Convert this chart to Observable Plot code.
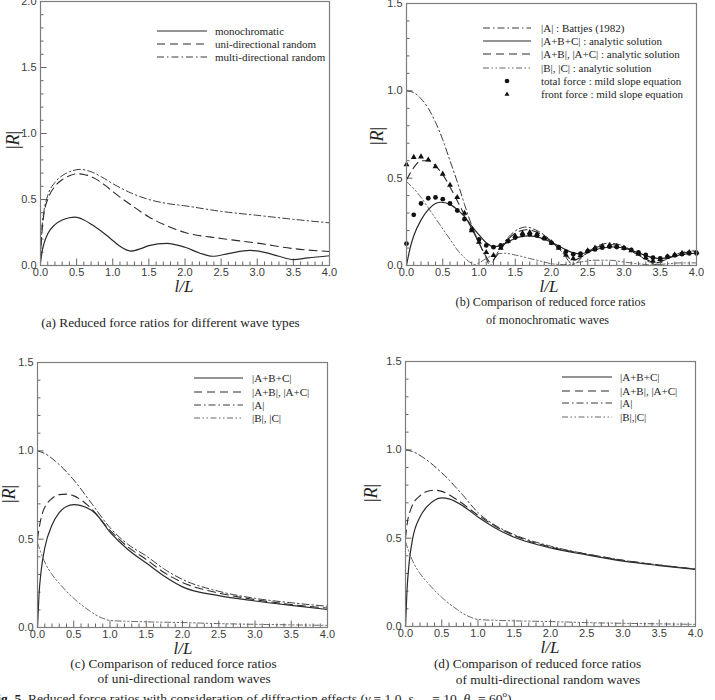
<!DOCTYPE html>
<html>
<head>
<meta charset="utf-8">
<script src="https://cdn.jsdelivr.net/npm/d3@7"></script>
<script src="https://cdn.jsdelivr.net/npm/@observablehq/plot@0.6"></script>
<style>
  body { margin: 0; background: #fff; }
  #fig { position: relative; width: 715px; height: 700px; overflow: hidden;
         font-family: "Liberation Serif", "Times New Roman", serif; color: #1e1e1e; }
  .t { position: absolute; white-space: nowrap; line-height: 1; }
  .c { transform: translate(-50%, -50%); }
  .l { transform: translate(0, -50%); }
  .ylab { transform: translate(-50%, -50%) rotate(-90deg); font-size: 18px; line-height: 0.8; }
  .xlab { font-size: 17px; font-style: italic; line-height: 0.7; }
  .leg { font-size: 11px; }
  .cap { font-size: 13.3px; }
</style>
</head>
<body>
<div id="fig"></div>
<script>
// ---------- shared axes ----------
const xMajor = [0, 0.5, 1.0, 1.5, 2.0, 2.5, 3.0, 3.5, 4.0];

// ---------- (a) different wave types ----------
const aMonoX  = [0, 0.02, 0.05, 0.1, 0.2, 0.3, 0.4, 0.48, 0.6, 0.75, 0.9, 1.0, 1.1, 1.25, 1.4, 1.5, 1.75, 2.0, 2.2, 2.38, 2.6, 2.9, 3.1, 3.3, 3.5, 3.7, 4.0];
const aMono   = [0.02, 0.1, 0.17, 0.24, 0.31, 0.345, 0.362, 0.366, 0.345, 0.295, 0.235, 0.19, 0.145, 0.109, 0.13, 0.15, 0.168, 0.138, 0.095, 0.07, 0.09, 0.114, 0.1, 0.07, 0.045, 0.058, 0.074];
const aUniX   = [0, 0.02, 0.05, 0.1, 0.2, 0.3, 0.4, 0.5, 0.6, 0.75, 0.9, 1.0, 1.25, 1.5, 1.75, 2.0, 2.5, 3.0, 3.5, 4.0];
const aUni    = [0.05, 0.25, 0.4, 0.5, 0.6, 0.65, 0.68, 0.695, 0.69, 0.66, 0.605, 0.56, 0.46, 0.368, 0.3, 0.25, 0.205, 0.17, 0.128, 0.106];
const aMultiX = [0, 0.02, 0.05, 0.1, 0.2, 0.3, 0.4, 0.55, 0.7, 0.85, 1.0, 1.25, 1.5, 1.75, 2.0, 2.5, 3.0, 3.5, 4.0];
const aMulti  = [0.05, 0.28, 0.42, 0.53, 0.63, 0.68, 0.71, 0.728, 0.71, 0.67, 0.62, 0.55, 0.5, 0.47, 0.452, 0.41, 0.38, 0.35, 0.323];

// ---------- (b) monochromatic waves ----------
const bAX   = [0, 0.1, 0.2, 0.3, 0.4, 0.5, 0.6, 0.7, 0.8, 0.9, 1.0, 1.1, 1.15, 1.25, 1.4, 1.55, 1.65, 1.8, 2.0, 2.15, 2.3, 2.45, 2.6, 2.8, 3.0, 3.2, 3.45, 3.6, 3.8, 4.0];
const bA    = [1.0, 0.99, 0.955, 0.9, 0.82, 0.72, 0.6, 0.48, 0.35, 0.23, 0.13, 0.04, 0.0, 0.07, 0.16, 0.21, 0.22, 0.2, 0.14, 0.075, 0.005, 0.06, 0.105, 0.128, 0.11, 0.06, 0.005, 0.04, 0.075, 0.085];
const bABCX = [0, 0.05, 0.1, 0.2, 0.3, 0.4, 0.47, 0.6, 0.7, 0.8, 0.9, 1.0, 1.1, 1.2, 1.3, 1.4, 1.55, 1.7, 1.85, 2.0, 2.15, 2.3, 2.4, 2.5, 2.7, 2.85, 3.0, 3.2, 3.4, 3.5, 3.6, 3.8, 4.0];
const bABC  = [0.0, 0.1, 0.17, 0.26, 0.32, 0.355, 0.362, 0.35, 0.32, 0.28, 0.225, 0.175, 0.13, 0.108, 0.112, 0.135, 0.162, 0.17, 0.158, 0.133, 0.1, 0.072, 0.066, 0.078, 0.1, 0.106, 0.1, 0.072, 0.045, 0.04, 0.045, 0.062, 0.07];
const bABX  = [0, 0.1, 0.2, 0.3, 0.4, 0.5, 0.6, 0.7, 0.8, 0.9, 1.0, 1.1, 1.15, 1.25, 1.4, 1.55, 1.65, 1.8, 2.0, 2.15, 2.3, 2.45, 2.6, 2.8, 3.0, 3.2, 3.45, 3.6, 3.8, 4.0];
const bAB   = [0.49, 0.56, 0.6, 0.6, 0.57, 0.52, 0.45, 0.37, 0.29, 0.21, 0.13, 0.05, 0.02, 0.06, 0.15, 0.195, 0.205, 0.19, 0.135, 0.08, 0.03, 0.06, 0.1, 0.12, 0.105, 0.06, 0.015, 0.04, 0.07, 0.08];
const bBX   = [0, 0.1, 0.2, 0.3, 0.4, 0.5, 0.6, 0.7, 0.8, 0.9, 0.95, 1.0, 1.1, 1.2, 1.35, 1.5, 1.7, 1.9, 2.0, 2.2, 2.4, 2.6, 2.8, 3.0, 3.2, 3.4, 3.6, 3.8, 4.0];
const bB    = [0.48, 0.44, 0.39, 0.33, 0.27, 0.21, 0.15, 0.09, 0.045, 0.012, 0.005, 0.015, 0.04, 0.06, 0.07, 0.06, 0.04, 0.02, 0.01, 0.005, 0.02, 0.03, 0.03, 0.02, 0.01, 0.003, 0.01, 0.015, 0.015];
const bDotX = [0.0, 0.1, 0.2, 0.3, 0.4, 0.5, 0.6, 0.7, 0.8, 0.9, 1.0, 1.1, 1.2, 1.3, 1.4, 1.5, 1.6, 1.7, 1.8, 1.9, 2.0, 2.1, 2.2, 2.3, 2.4, 2.5, 2.6, 2.7, 2.8, 2.9, 3.0, 3.1, 3.2, 3.3, 3.4, 3.5, 3.6, 3.7, 3.8, 3.9, 4.0];
const bTotal = [0.125, 0.29, 0.355, 0.385, 0.39, 0.38, 0.355, 0.315, 0.265, 0.205, 0.15, 0.115, 0.105, 0.115, 0.14, 0.16, 0.175, 0.178, 0.172, 0.155, 0.13, 0.105, 0.08, 0.065, 0.068, 0.082, 0.092, 0.102, 0.108, 0.106, 0.1, 0.09, 0.075, 0.06, 0.045, 0.04, 0.05, 0.058, 0.065, 0.07, 0.07];
const bFront = [0.578, 0.62, 0.623, 0.605, 0.566, 0.524, 0.46, 0.39, 0.3, 0.2, 0.135, 0.075, 0.058, 0.1, 0.14, 0.168, 0.185, 0.19, 0.18, 0.158, 0.13, 0.1, 0.06, 0.04, 0.058, 0.085, 0.1, 0.11, 0.115, 0.11, 0.1, 0.085, 0.065, 0.045, 0.025, 0.035, 0.05, 0.06, 0.07, 0.075, 0.075];

// ---------- (c) uni-directional random waves ----------
const cAX   = [0, 0.1, 0.25, 0.5, 0.75, 1.0, 1.25, 1.5, 1.75, 2.0, 2.5, 3.0, 3.5, 4.0];
const cA    = [1.0, 0.985, 0.94, 0.835, 0.7, 0.565, 0.47, 0.405, 0.33, 0.272, 0.205, 0.165, 0.14, 0.12];
const cABX  = [0, 0.03, 0.07, 0.1, 0.2, 0.3, 0.4, 0.5, 0.7, 1.0, 1.25, 1.5, 1.75, 2.0, 2.5, 3.0, 3.5, 4.0];
const cAB   = [0.5, 0.58, 0.65, 0.68, 0.73, 0.752, 0.755, 0.745, 0.69, 0.55, 0.455, 0.385, 0.31, 0.255, 0.195, 0.158, 0.13, 0.11];
const cABCX = [0, 0.02, 0.05, 0.1, 0.2, 0.3, 0.4, 0.5, 0.6, 0.8, 1.0, 1.25, 1.5, 1.75, 2.0, 2.5, 3.0, 3.5, 4.0];
const cABC  = [0, 0.18, 0.32, 0.45, 0.58, 0.65, 0.685, 0.695, 0.69, 0.645, 0.54, 0.44, 0.365, 0.29, 0.23, 0.18, 0.15, 0.125, 0.102];
const cBX   = [0, 0.05, 0.1, 0.2, 0.3, 0.4, 0.5, 0.6, 0.7, 0.8, 0.9, 1.0, 1.25, 1.5, 2.0, 2.5, 3.0, 3.5, 4.0];
const cB    = [0.48, 0.42, 0.37, 0.3, 0.25, 0.205, 0.165, 0.13, 0.1, 0.072, 0.052, 0.04, 0.035, 0.032, 0.028, 0.022, 0.018, 0.015, 0.012];

// ---------- (d) multi-directional random waves ----------
const dAX   = [0, 0.1, 0.25, 0.5, 0.6, 0.7, 0.8, 0.9, 1.0, 1.25, 1.5, 2.0, 2.5, 3.0, 3.5, 4.0];
const dA    = [1.0, 0.99, 0.955, 0.87, 0.83, 0.785, 0.74, 0.69, 0.645, 0.57, 0.52, 0.455, 0.41, 0.375, 0.348, 0.325];
const dABX  = [0, 0.03, 0.07, 0.1, 0.2, 0.3, 0.4, 0.5, 0.7, 1.0, 1.25, 1.5, 2.0, 2.5, 3.0, 3.5, 4.0];
const dAB   = [0.5, 0.6, 0.66, 0.69, 0.74, 0.765, 0.772, 0.765, 0.72, 0.63, 0.565, 0.515, 0.45, 0.41, 0.375, 0.348, 0.325];
const dABCX = [0, 0.02, 0.05, 0.1, 0.2, 0.3, 0.4, 0.5, 0.6, 0.8, 1.0, 1.25, 1.5, 2.0, 2.5, 3.0, 3.5, 4.0];
const dABC  = [0, 0.2, 0.36, 0.5, 0.62, 0.68, 0.715, 0.728, 0.722, 0.68, 0.62, 0.555, 0.505, 0.445, 0.405, 0.37, 0.345, 0.323];
const dBX   = [0, 0.05, 0.1, 0.2, 0.3, 0.4, 0.5, 0.6, 0.7, 0.8, 0.9, 1.0, 1.25, 1.5, 2.0, 2.5, 3.0, 3.5, 4.0];
const dB    = [0.48, 0.42, 0.37, 0.3, 0.25, 0.205, 0.165, 0.13, 0.1, 0.072, 0.052, 0.04, 0.035, 0.032, 0.028, 0.022, 0.018, 0.015, 0.012];

// ---------- line styles ----------
const STYLE = {
  solid:   { dash: null,                         stroke: "#2a2a2a", width: 1.2 },
  dash:    { dash: "8,5",                        stroke: "#2a2a2a", width: 1.1 },
  dashdot: { dash: "7,3,1.5,3",                  stroke: "#3a3a3a", width: 1.0 },
  dd:      { dash: "6,2.5,1.5,2.5,1.5,2.5",      stroke: "#555",    width: 0.9 }
};

const fig = document.getElementById("fig");

function panel({left, top, right, bottom, yMax, series, dots = []}) {
  const w = right - left, h = bottom - top;
  const mL = 40, mT = 20, mR = 20, mB = 40;
  const xMinor = d3.range(0, 41).map(i => i / 10).filter(v => Math.round(v * 10) % 5 !== 0);
  const yAll = d3.range(0, Math.round(yMax * 10) + 1).map(i => i / 10);
  const yMinor = yAll.filter(v => Math.round(v * 10) % 5 !== 0);
  const yMajor = yAll.filter(v => Math.round(v * 10) % 5 === 0);
  const axisText = {fontSize: 11, fontFamily: "Liberation Sans, Arial, sans-serif", fill: "#3c3c3c"};
  const marks = [
    Plot.tickX(xMinor, {x: d => d, insetTop: h - 3.5, stroke: "#666", strokeWidth: 1}),
    Plot.tickX(xMajor, {x: d => d, insetTop: h - 6.5, stroke: "#666", strokeWidth: 1}),
    Plot.tickY(yMinor, {y: d => d, insetRight: w - 3.5, stroke: "#666", strokeWidth: 1}),
    Plot.tickY(yMajor, {y: d => d, insetRight: w - 6.5, stroke: "#666", strokeWidth: 1}),
    Plot.axisX(xMajor, {tickSize: 0, tickPadding: 3, tickFormat: d => d.toFixed(1), label: null, ...axisText}),
    Plot.axisY(yMajor, {tickSize: 0, tickPadding: 4, tickFormat: d => d.toFixed(1), label: null, ...axisText}),
  ];
  for (const s of series) {
    const st = STYLE[s.style];
    marks.push(Plot.line(s.y, {x: s.x, y: s.y, curve: "monotone-x", stroke: st.stroke,
      strokeWidth: st.width, strokeDasharray: st.dash}));
  }
  for (const d of dots) {
    marks.push(Plot.dot(d.y, {x: d.x, y: d.y, symbol: d.symbol, r: d.r, fill: "#111", stroke: "none"}));
  }
  marks.push(Plot.frame({stroke: "#7d7d7d", strokeWidth: 1.2}));
  const svg = Plot.plot({
    width: w + mL + mR, height: h + mT + mB,
    marginLeft: mL, marginRight: mR, marginTop: mT, marginBottom: mB,
    x: {domain: [0, 4]},
    y: {domain: [0, yMax]},
    style: {overflow: "visible", background: "transparent"},
    marks
  });
  svg.style.position = "absolute";
  svg.style.left = (left - mL) + "px";
  svg.style.top = (top - mT) + "px";
  fig.appendChild(svg);
}

function text(html, x, y, cls, extra = "") {
  const el = document.createElement("div");
  el.className = "t " + cls;
  el.style.cssText = `left:${x}px;top:${y}px;${extra}`;
  el.innerHTML = html;
  fig.appendChild(el);
}

function legend(x1, x2, tx, rows, entries) {
  entries.forEach((e, i) => {
    const y = rows[i];
    const el = document.createElement("div");
    el.className = "t";
    el.style.cssText = `left:${x1}px;top:${y - 5}px;`;
    const W = x2 - x1;
    let sample;
    if (e.marker === "circle") {
      sample = `<circle cx="${W / 2}" cy="5" r="2.3" fill="#111"/>`;
    } else if (e.marker === "triangle") {
      sample = `<path d="M${W / 2},2.4 L${W / 2 + 2.5},6.7 L${W / 2 - 2.5},6.7 Z" fill="#111"/>`;
    } else {
      const st = STYLE[e.style];
      sample = `<line x1="0" y1="5" x2="${W}" y2="5" stroke="${st.stroke}" stroke-width="${st.width}"` +
        (st.dash ? ` stroke-dasharray="${st.dash}"` : "") + `/>`;
    }
    el.innerHTML = `<svg width="${W}" height="10" style="display:block">${sample}</svg>`;
    fig.appendChild(el);
    text(e.label, tx, y, "l leg");
  });
}

// (a)
panel({left: 40, top: 1, right: 329, bottom: 265, yMax: 2, series: [
  {x: aMonoX, y: aMono, style: "solid"},
  {x: aUniX, y: aUni, style: "dash"},
  {x: aMultiX, y: aMulti, style: "dashdot"}
]});
// (b)
panel({left: 406, top: 3, right: 696, bottom: 265, yMax: 1.5, series: [
  {x: bAX, y: bA, style: "dashdot"},
  {x: bABCX, y: bABC, style: "solid"},
  {x: bABX, y: bAB, style: "dash"},
  {x: bBX, y: bB, style: "dd"}
], dots: [
  {x: bDotX, y: bTotal, symbol: "circle", r: 2.4},
  {x: bDotX, y: bFront, symbol: "triangle", r: 2.2}
]});
// (c)
panel({left: 37, top: 362, right: 327, bottom: 627, yMax: 1.5, series: [
  {x: cABCX, y: cABC, style: "solid"},
  {x: cABX, y: cAB, style: "dash"},
  {x: cAX, y: cA, style: "dashdot"},
  {x: cBX, y: cB, style: "dd"}
]});
// (d)
panel({left: 405, top: 361, right: 695, bottom: 626, yMax: 1.5, series: [
  {x: dABCX, y: dABC, style: "solid"},
  {x: dABX, y: dAB, style: "dash"},
  {x: dAX, y: dA, style: "dashdot"},
  {x: dBX, y: dB, style: "dd"}
]});

// axis titles
const R = "|<i>R</i>|";
text(R, 13, 140, "ylab");
text(R, 377, 136, "ylab");
text(R, 9, 494, "ylab");
text(R, 371, 493, "ylab");
text("l/L", 184, 287, "c xlab");
text("l/L", 549, 287, "c xlab");
text("l/L", 183, 649, "c xlab");
text("l/L", 550, 648, "c xlab");

// legends
legend(157, 207, 215, [31, 44, 57], [
  {label: "monochromatic", style: "solid"},
  {label: "uni-directional random", style: "dash"},
  {label: "multi-directional random", style: "dashdot"}
]);
legend(483, 531, 541, [28, 41, 54, 68, 81, 94], [
  {label: "|A| : Battjes (1982)", style: "dashdot"},
  {label: "|A+B+C| : analytic solution", style: "solid"},
  {label: "|A+B|, |A+C| : analytic solution", style: "dash"},
  {label: "|B|, |C| : analytic solution", style: "dd"},
  {label: "total force : mild slope equation", marker: "circle"},
  {label: "front force : mild slope equation", marker: "triangle"}
]);
legend(194, 243, 252, [378, 391.5, 404.5, 418], [
  {label: "|A+B+C|", style: "solid"},
  {label: "|A+B|, |A+C|", style: "dash"},
  {label: "|A|", style: "dashdot"},
  {label: "|B|, |C|", style: "dd"}
]);
legend(562, 612, 620, [377, 390.5, 403, 417], [
  {label: "|A+B+C|", style: "solid"},
  {label: "|A+B|, |A+C|", style: "dash"},
  {label: "|A|", style: "dashdot"},
  {label: "|B|,|C|", style: "dd"}
]);

// captions
text("(a) Reduced force ratios for different wave types", 170.5, 323, "c cap");
text("(b) Comparison of reduced force ratios", 550.5, 302, "c cap", "font-size:12.2px");
text("of monochromatic waves", 547.5, 320, "c cap", "font-size:12.2px");
text("(c) Comparison of reduced force ratios", 173.5, 664, "c cap");
text("of uni-directional random waves", 184, 679, "c cap");
text("(d) Comparison of reduced force ratios", 537.5, 664, "c cap");
text("of multi-directional random waves", 548, 680, "c cap");
text("<b>Fig. 5.</b> Reduced force ratios with consideration of diffraction effects (<i>γ</i> = 1.0, <i>s</i><sub style='font-size:9px'>max</sub> = 10, <i>θ</i><sub style='font-size:9px'>p</sub> = 60<sup style='font-size:9px'>o</sup>)",
  -11, 690, "cap", "font-size:13.5px");
</script>
</body>
</html>
